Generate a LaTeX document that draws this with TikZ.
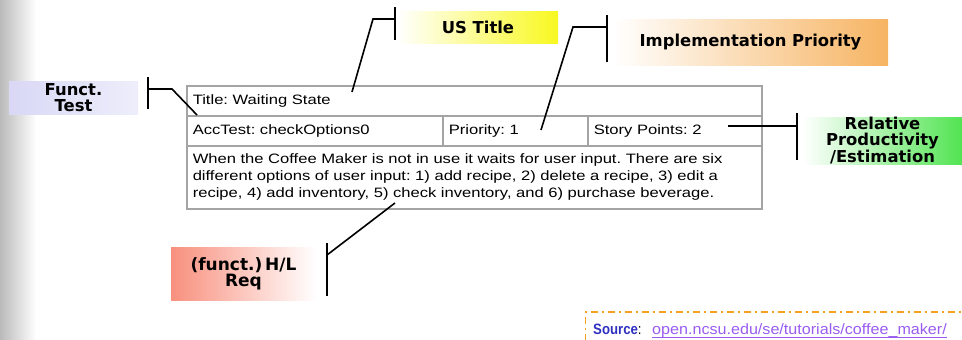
\documentclass[tikz,border=0pt]{standalone}
\usepackage{fontspec}
\usepackage{graphicx}
\setmainfont{Liberation Sans}[FakeStretch=1.22]
\newfontfamily\lblfont{DejaVu Sans}
\newfontfamily\srcfont{Liberation Sans}
\definecolor{cellgray}{HTML}{A4A4A4}
\definecolor{ustyellow}{HTML}{F8F820}
\definecolor{implorange}{HTML}{F6B462}
\definecolor{relgreen}{HTML}{52E452}
\definecolor{functblue}{HTML}{D8D8F6}
\definecolor{hlred}{HTML}{F8907E}
\definecolor{srcorange}{HTML}{F5A020}
\definecolor{srcblue}{HTML}{3030C0}
\definecolor{linkpurple}{HTML}{9A5CF0}
\frenchspacing
\begin{document}
\begin{tikzpicture}[x=1pt,y=-1pt,
  cell/.style={draw=cellgray, line width=1.5pt, anchor=north west, inner xsep=6pt, inner ysep=0pt, align=left, font=\fontsize{13.6}{17}\selectfont},
  lbl/.style={inner sep=0pt, align=center, font=\lblfont\bfseries\fontsize{16.4}{16.5}\selectfont},
  conn/.style={line width=1.6pt, black}]
\useasboundingbox (0,0) rectangle (962,340);
% left grey strip
\shade[left color=black!27, right color=white] (0,0) rectangle (36,340);

% table
\node[cell, text width=563pt, minimum height=30pt] (title) at (186,85) {Title: Waiting State};
\node[cell, text width=244pt, minimum height=30pt] (acc) at (186,115) {AccTest: checkOptions0};
\node[cell, text width=133pt, minimum height=30pt] (prio) at (442,115) {Priority: 1};
\node[cell, text width=162pt, minimum height=30pt] (sp) at (587,115) {Story Points: 2};
\node[cell, text width=563pt, minimum height=63pt] (desc) at (186,145) {When the Coffee Maker is not in use it waits for user input. There are six\\different options of user input: 1) add recipe, 2) delete a recipe, 3) edit a\\recipe, 4) add inventory, 5) check inventory, and 6) purchase beverage.};

% labels
\node[lbl, minimum width=160pt, minimum height=32pt, left color=white, right color=ustyellow] (ustitle) at (478,27) {US Title};
\node[lbl, minimum width=275pt, minimum height=46pt, left color=white, right color=implorange] (impl) at (750.5,42) {Implementation Priority};
\node[lbl, minimum width=159pt, minimum height=47pt, left color=white, right color=relgreen, font=\lblfont\bfseries\fontsize{16.4}{15.5}\selectfont] (rel) at (882.5,140.5) {Relative\\Productivity\\/Estimation};
\node[lbl, minimum width=129pt, minimum height=33pt, left color=functblue, right color=functblue!45] (funct) at (73.5,97.5) {Funct.\\Test};
\node[lbl, minimum width=145pt, minimum height=53pt, left color=hlred, right color=white, font=\lblfont\bfseries\fontsize{17}{16}\selectfont] (hl) at (243.5,273.5) {(funct.)\,H/L\\Req};

% connector coordinates
\coordinate (usTop) at (395,7);
\coordinate (usBot) at (395,40);
\coordinate (usJ) at (395,19);
\coordinate (usK) at (373,19);
\coordinate (usE) at (352,92);
\coordinate (imTop) at (607,15);
\coordinate (imBot) at (607,62);
\coordinate (imJ) at (607,27);
\coordinate (imK) at (573,27);
\coordinate (imE) at (541,130);
\coordinate (reTop) at (797,113);
\coordinate (reBot) at (797,160);
\coordinate (reJ) at (797,126);
\coordinate (reE) at (728,126);
\coordinate (fuTop) at (148,77);
\coordinate (fuBot) at (148,109);
\coordinate (fuJ) at (148,89);
\coordinate (fuK) at (172,89);
\coordinate (fuE) at (197,115);
\coordinate (hlTop) at (327,243);
\coordinate (hlBot) at (327,296);
\coordinate (hlJ) at (327,255);
\coordinate (hlE) at (395,203);

\draw[conn] (usTop) -- (usBot);
\draw[conn] (usJ) -- (usK) -- (usE);
\draw[conn] (imTop) -- (imBot);
\draw[conn] (imJ) -- (imK) -- (imE);
\draw[conn] (reTop) -- (reBot);
\draw[conn] (reJ) -- (reE);
\draw[conn] (fuTop) -- (fuBot);
\draw[conn] (fuJ) -- (fuK) -- (fuE);
\draw[conn] (hlTop) -- (hlBot);
\draw[conn] (hlJ) -- (hlE);

% source box
\coordinate (srcBL) at (585.5,341);
\coordinate (srcTL) at (585.5,312);
\coordinate (srcTR) at (963,312);
\draw[srcorange, line width=1.5pt, dash pattern=on 7pt off 4pt on 2pt off 4pt] (srcBL) -- (srcTL) -- (srcTR);
\node[anchor=base west, inner sep=0pt, font=\srcfont\fontsize{15}{15}\selectfont] (src) at (593,334) {\scalebox{0.88}[1]{\textbf{\color{srcblue}Source}:}};
\node[anchor=base west, inner sep=0pt, font=\srcfont\fontsize{15}{15}\selectfont, text=linkpurple] (link) at (652,334) {\scalebox{1.075}[1]{open.ncsu.edu/se/tutorials/coffee\_maker/}};
\coordinate (ulA) at ([yshift=-3.5pt]link.base west);
\coordinate (ulB) at ([yshift=-3.5pt]link.base east);
\draw[linkpurple, line width=1.2pt] (ulA) -- (ulB);
\end{tikzpicture}
\end{document}
